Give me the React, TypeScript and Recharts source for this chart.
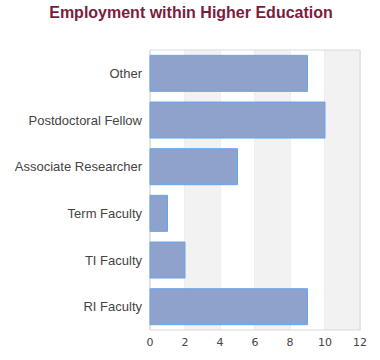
import { BarChart, Bar, XAxis, YAxis, CartesianGrid, ReferenceArea } from 'recharts'

const categories = ['Other', 'Postdoctoral Fellow', 'Associate Researcher', 'Term Faculty', 'TI Faculty', 'RI Faculty']
const counts = [9, 10, 5, 1, 2, 9]
const xTicks = [0, 2, 4, 6, 8, 10, 12]
const bands = [[2, 4], [6, 8], [10, 12]]

const data = categories.map((c, i) => ({ name: c, value: counts[i] }))

function App() {
    return (
        <div style={{ position: 'absolute', left: 0, top: 0, width: 380, height: 360, background: '#fff' }}>
            <div
                style={{
                    position: 'absolute', left: 0, top: 3, width: 382, textAlign: 'center',
                    fontFamily: 'Liberation Sans, Arial, sans-serif', fontWeight: 'bold', fontSize: 16,
                    color: '#7b1c3e', lineHeight: '20px'
                }}
            >
                Employment within Higher Education
            </div>
            <BarChart
                width={380}
                height={360}
                data={data}
                layout="vertical"
                margin={{ top: 50, right: 20, bottom: 0, left: 0 }}
                barCategoryGap="11.5%"
            >
                {bands.map(([a, b]) => (
                    <ReferenceArea key={a} x1={a} x2={b} fill="#f2f2f2" fillOpacity={1} stroke="none" ifOverflow="visible" />
                ))}
                <CartesianGrid horizontal={false} stroke="#dddddd" />
                <ReferenceArea x1={0} x2={12} fill="none" stroke="#d9d9d9" strokeWidth={1} ifOverflow="visible" />
                <XAxis
                    type="number"
                    domain={[0, 12]}
                    ticks={xTicks}
                    height={30}
                    axisLine={false}
                    tickLine={false}
                    tick={{ fill: '#444', fontSize: 11, fontFamily: 'DejaVu Sans' }}
                />
                <YAxis
                    type="category"
                    dataKey="name"
                    width={150}
                    axisLine={false}
                    tickLine={false}
                    tick={{ fill: '#444', fontSize: 13, fontFamily: 'Liberation Sans, Arial' }}
                />
                <Bar dataKey="value" fill="#8ea2cc" stroke="#64a6ee" strokeWidth={1} isAnimationActive={false} />
            </BarChart>
        </div>
    )
}

export default App
